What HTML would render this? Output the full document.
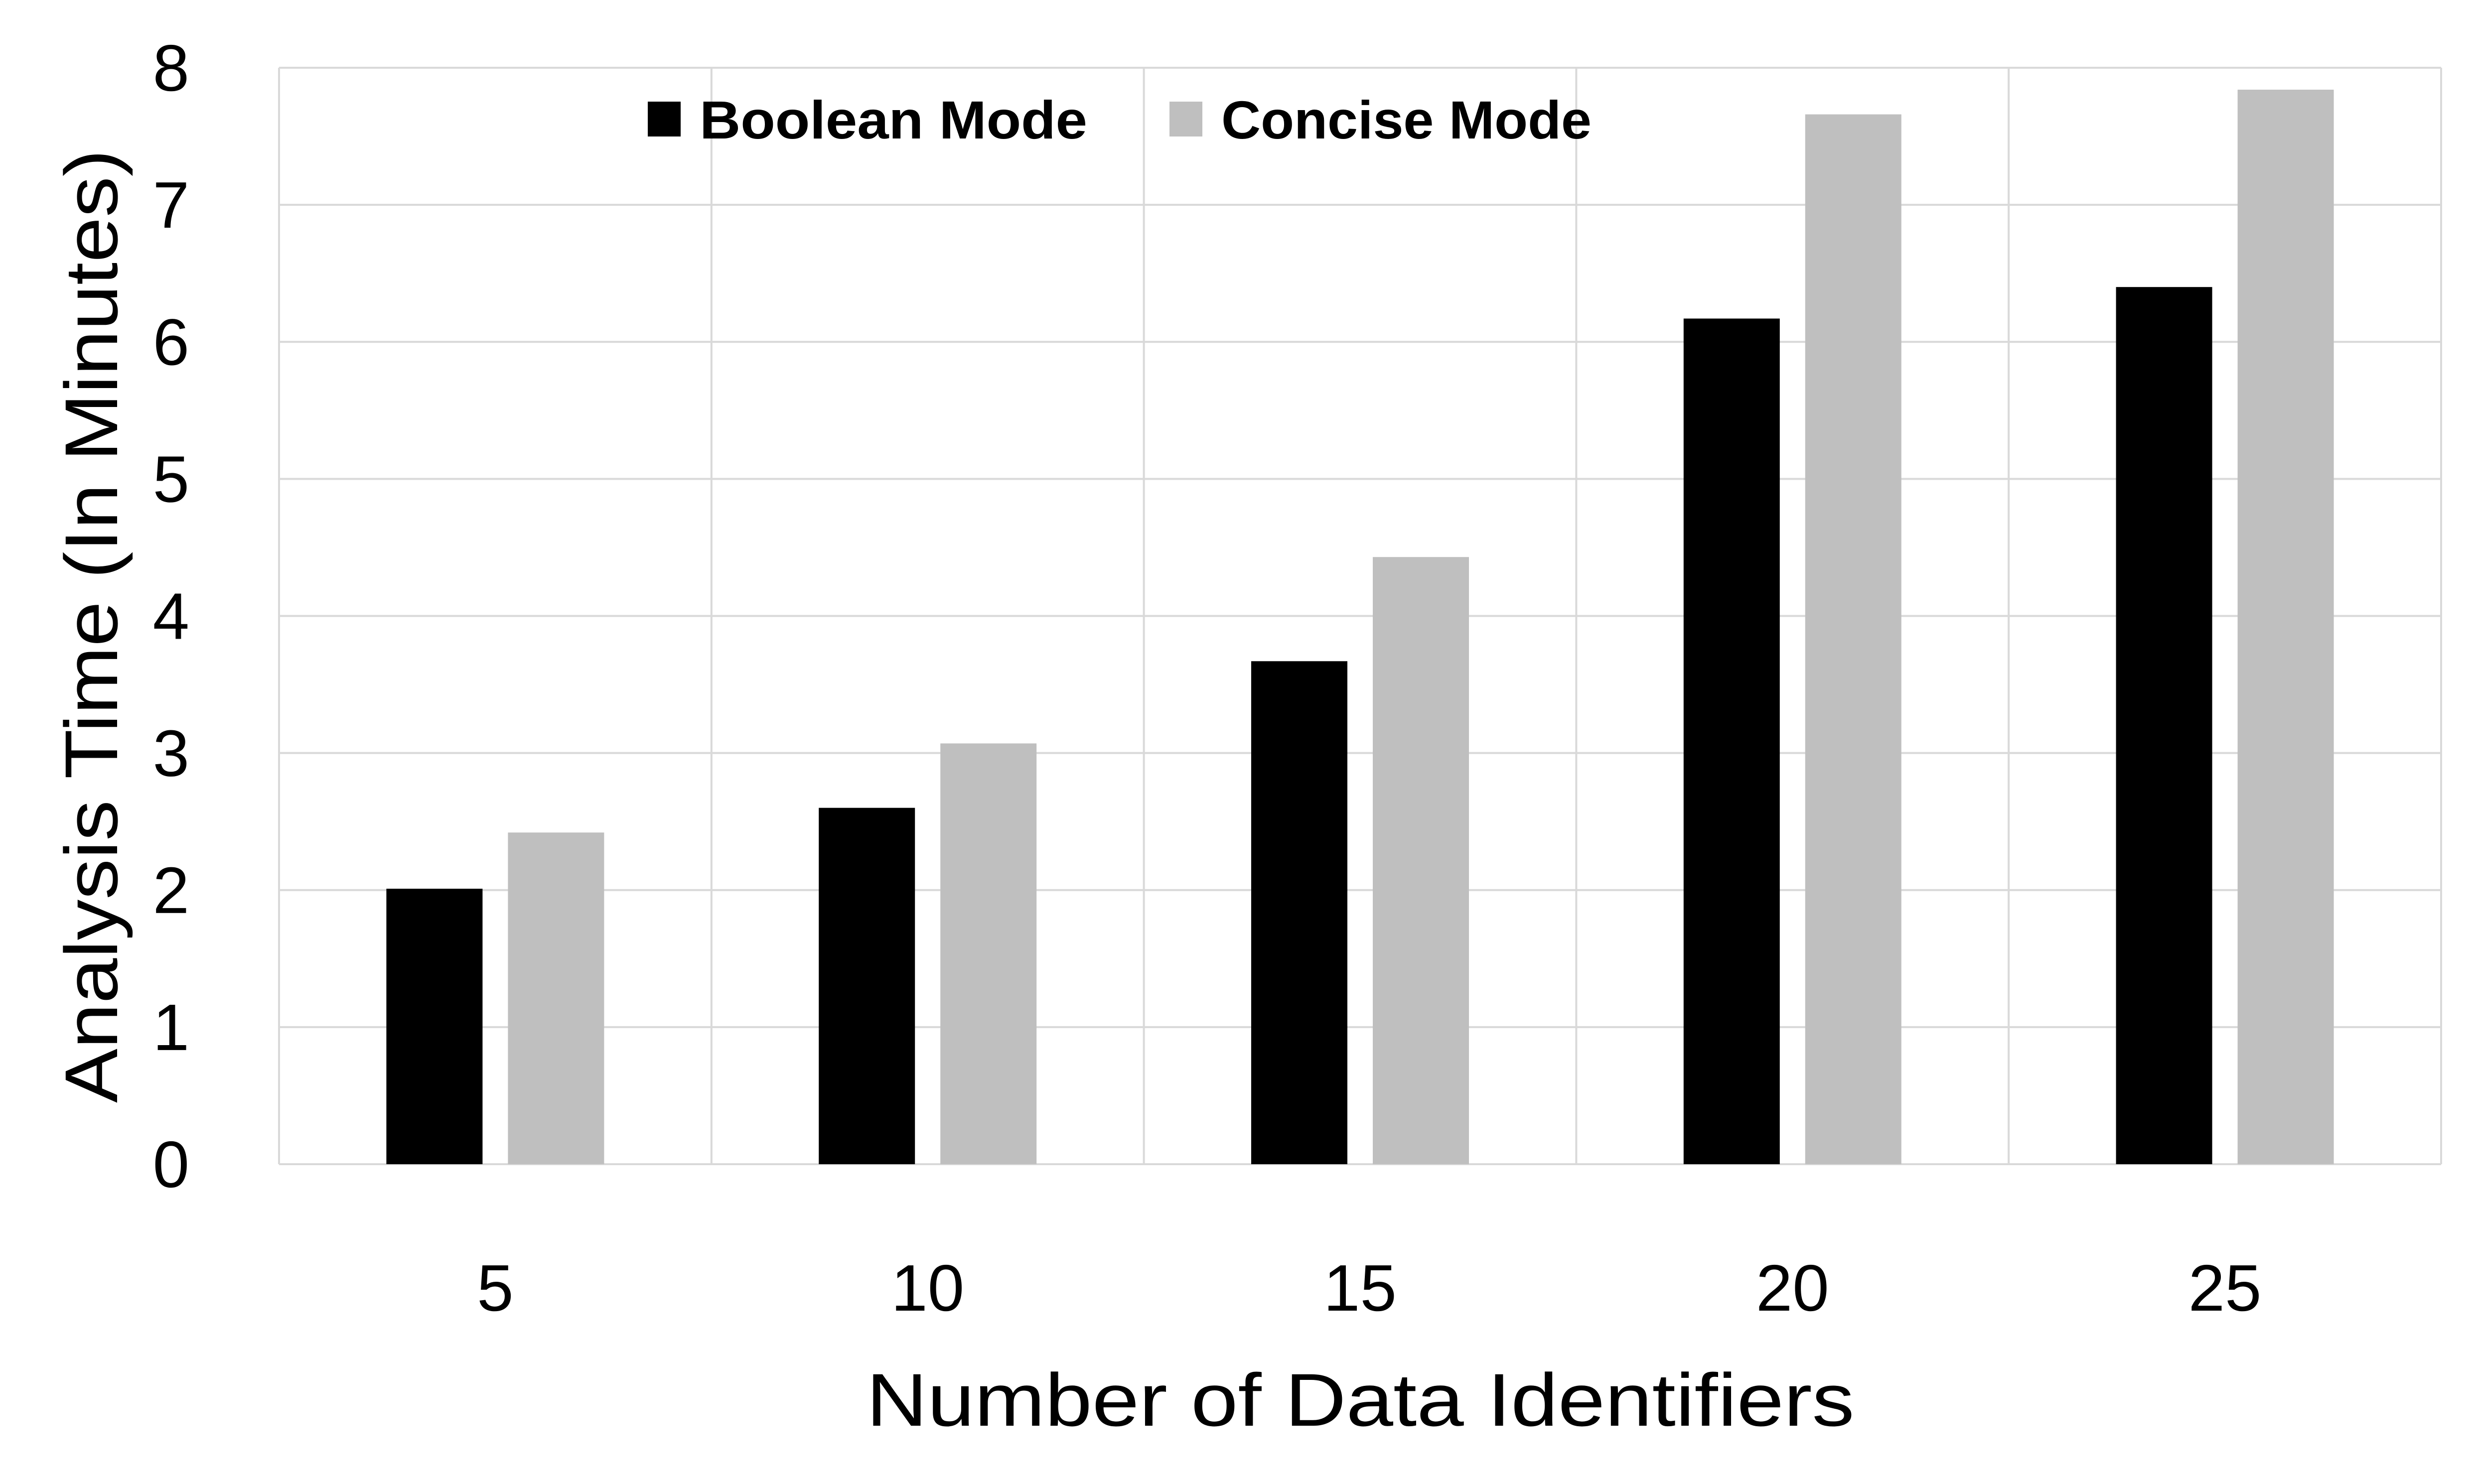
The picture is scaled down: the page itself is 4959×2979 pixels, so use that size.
<!DOCTYPE html>
<html><head><meta charset="utf-8"><style>html,body{margin:0;padding:0;background:#fff}svg{display:block}</style></head>
<body>
<svg id="chart" xmlns="http://www.w3.org/2000/svg" width="4959" height="2979" viewBox="0 0 4959 2979" font-family="'Liberation Sans', sans-serif">
<rect width="4959" height="2979" fill="#fff"/>
<g id="grid"></g>
<g id="bars"></g>
<g id="ticks"></g>
<g>
  <rect x="1300" y="204" width="66" height="70" fill="#000"/>
  <text x="1404" y="278" font-size="108" font-weight="bold" textLength="778" lengthAdjust="spacingAndGlyphs">Boolean Mode</text>
  <rect x="2347" y="204" width="66" height="70" fill="#bfbfbf"/>
  <text x="2451" y="278" font-size="108" font-weight="bold" textLength="743" lengthAdjust="spacingAndGlyphs">Concise Mode</text>
</g>
<text x="2730" y="2862" font-size="150" text-anchor="middle" textLength="1983" lengthAdjust="spacingAndGlyphs">Number of Data Identifiers</text>
<text transform="translate(235,1257) rotate(-90)" font-size="150" text-anchor="middle" textLength="1914" lengthAdjust="spacingAndGlyphs">Analysis Time (In Minutes)</text>
</svg>
<script>
const categories = ["5","10","15","20","25"];
const booleanValues = [2.01, 2.6, 3.67, 6.17, 6.4];
const conciseValues = [2.42, 3.07, 4.43, 7.66, 7.84];
const yTicks = [0,1,2,3,4,5,6,7,8];

const NS = "http://www.w3.org/2000/svg";
const L = 560, R = 4899, T = 136, B = 2337, YMAX = 8;
const groupW = (R - L) / categories.length;
const barW = 193, gap = 51;
function yScale(v){ return B - (v / YMAX) * (B - T); }
function xGroup(i){ return L + i * groupW; }
function mk(tag, attrs, parent){ const e = document.createElementNS(NS, tag); for (const k in attrs) e.setAttribute(k, attrs[k]); parent.appendChild(e); return e; }

const grid = document.getElementById('grid');
const bars = document.getElementById('bars');
const ticks = document.getElementById('ticks');

yTicks.forEach(t => {
  const y = yScale(t);
  const ln = mk('line', {x1:L, x2:R, y1:y, y2:y, stroke:'#d9d9d9', 'stroke-width':4}, grid);
  
  
  const tx = mk('text', {x:380, y:y+46, 'font-size':132, 'text-anchor':'end'}, ticks);
  tx.textContent = String(t);
  
  
});
for (let i = 0; i <= categories.length; i++) {
  const x = xGroup(i);
  const ln = mk('line', {x1:x, x2:x, y1:T, y2:B, stroke:'#d9d9d9', 'stroke-width':4}, grid);
  
  
}
categories.forEach((c, i) => {
  const g0 = xGroup(i);
  const start = g0 + (groupW - (2 * barW + gap)) / 2;
  const b1 = mk('rect', {x:start, y:yScale(booleanValues[i]), width:barW, height:B - yScale(booleanValues[i]), fill:'#000'}, bars);
  
  
  const b2 = mk('rect', {x:start + barW + gap, y:yScale(conciseValues[i]), width:barW, height:B - yScale(conciseValues[i]), fill:'#bfbfbf'}, bars);
  
  
  const tx = mk('text', {x:g0 + groupW / 2, y:2631, 'font-size':132, 'text-anchor':'middle'}, ticks);
  tx.textContent = c;
  
  
});
</script>
</body></html>
